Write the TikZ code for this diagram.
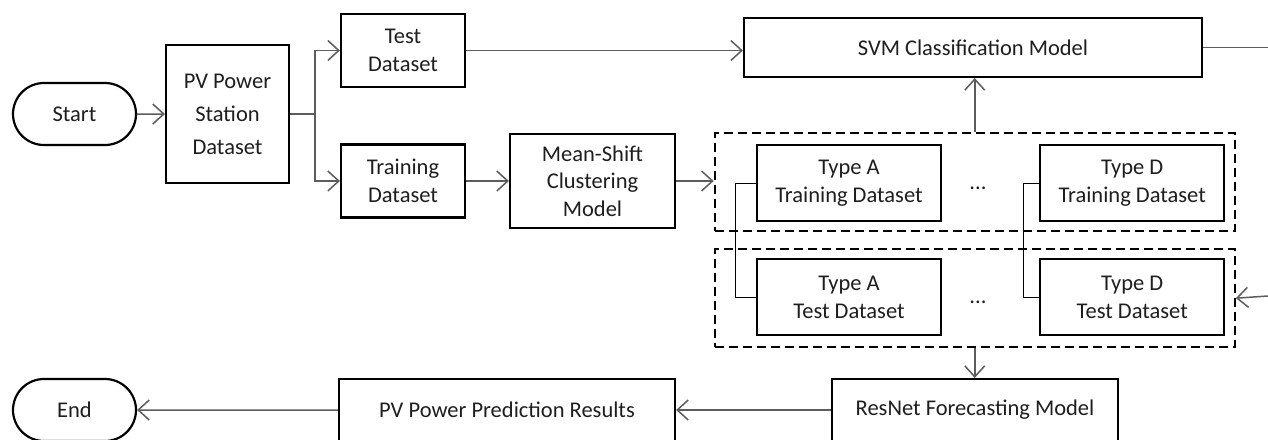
\documentclass[tikz,border=0pt]{standalone}
\usepackage{fontspec}
\setmainfont{Carlito}
\usepackage{tikz}
\usetikzlibrary{positioning,arrows.meta,shapes.misc}
\definecolor{c_link}{HTML}{5C5C5C}
\definecolor{c_text}{HTML}{1E1E1E}

\begin{document}
\begin{tikzpicture}[
        x=1pt, y=-1pt,
        font=\fontsize{22.5}{27.5}\selectfont,
        every node/.style={align=center, inner sep=0pt, text=c_text},
        box/.style={draw=black, line width=2.2pt},
        terminal/.style={rounded rectangle, draw=black, line width=2.2pt, minimum height=62pt},
        dset/.style={box, minimum width=184pt, minimum height=76pt},
        group/.style={draw=black, line width=2.2pt, dash pattern=on 9pt off 5pt,
            minimum width=520pt, minimum height=98pt},
        link/.style={draw=c_link, line width=1.5pt},
        flow/.style={link, -{Straight Barb[length=11pt,width=20pt]}},
        pair/.style={draw=black, line width=1pt}]
    \useasboundingbox (0,0) rectangle (1268,439);
    \clip (0,0) rectangle (1268,439);

    % left part
    \node[terminal, minimum width=123pt] (start) at (74.5,114) {Start};
    \node[box, minimum width=123pt, minimum height=138pt,
        font=\fontsize{22.5}{33}\selectfont] (pvdata) at (227.5,114) {PV Power\\Station\\Dataset};
    \coordinate (split) at (315,114);
    \node[box, minimum width=124pt, minimum height=73pt] (testdata) at (403,50.5) {Test\\Dataset};
    \node[box, minimum width=124pt, minimum height=73pt] (traindata) at (403,181) {Training\\Dataset};
    \node[box, minimum width=165pt, minimum height=94pt] (meanshift) at (592.5,181) {Mean-Shift\\Clustering\\Model};

    % clustered datasets
    \node[group] (trainGrp) at (974.75,182) {};
    \node[group] (testGrp) [below=16pt of trainGrp] {};
    \node[dset] (typeAtrain) at (849,183) {Type A\\Training Dataset};
    \node[dset] (typeDtrain) [right=97pt of typeAtrain] {Type D\\Training Dataset};
    \node[dset] (typeAtest) [below=36pt of typeAtrain] {Type A\\Test Dataset};
    \node[dset] (typeDtest) [below=36pt of typeDtrain] {Type D\\Test Dataset};
    \node (dotsTrain) at (978,188) {...};
    \node (dotsTest) at (978,302) {...};

    % models and results
    \node[box, minimum width=458pt, minimum height=59pt] (svm) at (973,47.5) {SVM Classification Model};
    \node[box, minimum width=286pt, minimum height=62pt] (resnet) at (975,410) {ResNet Forecasting Model};
    \node[box, minimum width=336pt, minimum height=62pt] (pvresult) at (507,410) {PV Power Prediction Results};
    \node[terminal, minimum width=123pt] (end) at (74.5,410) {End};
    \coordinate (svmOut) at (1268,47.5);
    \coordinate (testIn) at (1268,296);

    % connectors
    \draw[flow] (start) -- (pvdata);
    \draw[link] (pvdata) -- (split);
    \draw[flow] (split) |- (testdata);
    \draw[flow] (split) |- (traindata);
    \draw[flow] (testdata) -- (testdata -| svm.west);
    \draw[link] (svm) -- (svmOut);
    \draw[flow] (traindata) -- (meanshift);
    \draw[flow] (meanshift) -- (meanshift -| trainGrp.west);
    \draw[flow] (trainGrp.north) -- (trainGrp.north |- svm.south);
    \draw[flow] (testIn) -- (testGrp.east);
    \draw[flow] (testGrp.south) -- (testGrp.south |- resnet.north);
    \draw[flow] (resnet) -- (pvresult);
    \draw[flow] (pvresult) -- (end);
    \draw[pair] (typeAtrain.west) -- ++(-20,0) |- (typeAtest.west);
    \draw[pair] (typeDtrain.west) -- ++(-16,0) |- (typeDtest.west);
\end{tikzpicture}
\end{document}
